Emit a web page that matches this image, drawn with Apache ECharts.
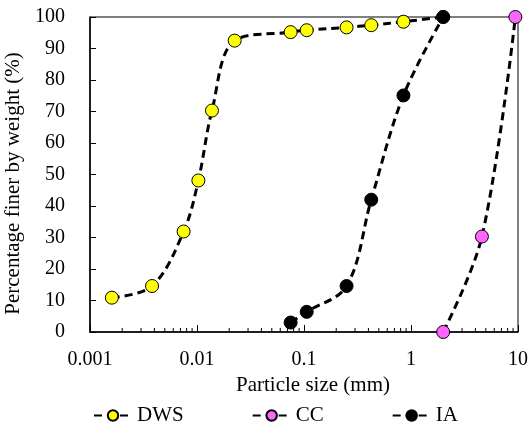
<!DOCTYPE html>
<html>
<head>
<meta charset="utf-8">
<script src="https://cdn.jsdelivr.net/npm/echarts@6/dist/echarts.min.js"></script>
<style>
  html, body { margin: 0; padding: 0; background: #fff; }
  #chart { width: 531px; height: 433px; }
</style>
</head>
<body>
<div id="chart"></div>
<script>
// particle size (mm) vs percentage finer
const dwsSize = [0.0016, 0.0038, 0.0075, 0.0103, 0.0138, 0.0225, 0.075, 0.106, 0.25, 0.425, 0.85, 2]
const dwsFiner = [10.9, 14.6, 31.9, 48.1, 70.3, 92.5, 95.2, 95.8, 96.7, 97.4, 98.5, 100]

const ccSize = [2, 4.6, 9.45]
const ccFiner = [0, 30.3, 100]

const iaSize = [0.075, 0.106, 0.25, 0.425, 0.85, 2]
const iaFiner = [3.0, 6.4, 14.6, 42, 75.1, 100]

// log minor ticks between decades
const minorTicks = []
;[0.001, 0.01, 0.1, 1].forEach(d => {
  for (let k = 2; k <= 9; k++) minorTicks.push(+(d * k).toPrecision(3))
})

const font = 'Liberation Serif'
const pairs = (xs, ys) => xs.map((x, i) => [x, ys[i]])

const lineSeries = (name, xs, ys, color) => ({
  name,
  type: 'line',
  data: pairs(xs, ys),
  smooth: 0.35,
  symbol: 'circle',
  symbolSize: 13,
  itemStyle: { color, borderColor: '#000', borderWidth: 1 },
  lineStyle: { color: '#000', width: 3, type: [8, 5] },
  emphasis: { disabled: true }
})

const chart = echarts.init(document.getElementById('chart'))
chart.setOption({
  animation: false,
  textStyle: { fontFamily: font },
  grid: {
    left: 90, right: 13, top: 17, bottom: 101,
    outerBoundsMode: 'none',
    containLabel: false,
    show: true, borderColor: '#000', borderWidth: 1
  },
  legend: {
    top: 400,
    left: 88,
    itemGap: 68,
    itemWidth: 38,
    itemHeight: 13,
    textStyle: { fontFamily: font, fontSize: 21, color: '#000' },
    data: ['DWS', 'CC', 'IA']
  },
  xAxis: {
    type: 'log',
    logBase: 10,
    min: 0.001,
    max: 10,
    name: 'Particle size (mm)',
    nameLocation: 'middle',
    nameGap: 42,
    nameTextStyle: { fontFamily: font, fontSize: 21, color: '#000', padding: [0, 0, 0, 18] },
    axisLine: { lineStyle: { color: '#000', width: 1.5 } },
    axisTick: { inside: true, length: 7, lineStyle: { color: '#000' } },
    axisLabel: {
      fontFamily: font, fontSize: 20, color: '#000', margin: 18,
      formatter: v => String(+v.toPrecision(3))
    },
    splitLine: { show: false }
  },
  yAxis: {
    type: 'value',
    min: 0,
    max: 100,
    interval: 10,
    name: 'Percentage finer by weight (%)',
    nameLocation: 'middle',
    nameGap: 54,
    nameTextStyle: { fontFamily: font, fontSize: 21, color: '#000', padding: [0, 18, 0, 0] },
    axisLine: { show: true, lineStyle: { color: '#000', width: 1.5 } },
    axisTick: { show: true, inside: true, length: 6, lineStyle: { color: '#000' } },
    axisLabel: { fontFamily: font, fontSize: 20, color: '#000', margin: 25 },
    splitLine: { show: false }
  },
  series: [
    {
      name: 'minor',
      type: 'custom',
      silent: true,
      z: 1,
      data: minorTicks.map(v => [v, 0]),
      renderItem: (params, api) => {
        const p = api.coord([api.value(0), 0])
        return {
          type: 'line',
          shape: { x1: p[0], y1: p[1], x2: p[0], y2: p[1] - 4 },
          style: { stroke: '#000', lineWidth: 1 }
        }
      }
    },
    lineSeries('DWS', dwsSize, dwsFiner, '#ffff00'),
    lineSeries('CC', ccSize, ccFiner, '#ff66ff'),
    lineSeries('IA', iaSize, iaFiner, '#000000')
  ]
})
</script>
</body>
</html>
